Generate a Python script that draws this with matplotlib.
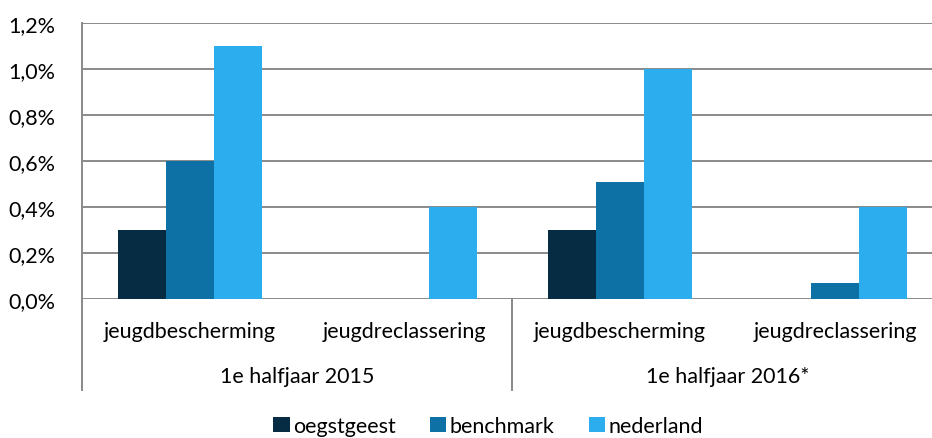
import matplotlib
matplotlib.use("Agg")
import matplotlib.pyplot as plt
import matplotlib.transforms as mtransforms
from matplotlib.patches import Patch
import numpy as np

plt.rcParams['font.family'] = ['Lato', 'DejaVu Sans']

# data
periods = ['1e halfjaar 2015', '1e halfjaar 2016*']
categories = ['jeugdbescherming', 'jeugdreclassering', 'jeugdbescherming', 'jeugdreclassering']
series = ['oegstgeest', 'benchmark', 'nederland']
oegstgeest = [0.30, 0.0, 0.30, 0.0]
benchmark = [0.60, 0.0, 0.51, 0.07]
nederland = [1.10, 0.40, 1.00, 0.40]
yticks = [0.0, 0.2, 0.4, 0.6, 0.8, 1.0, 1.2]

colors = ['#052c42', '#0e71a6', '#2caeee']
grey = '#8a8a8a'
fs = 15.5

fig = plt.figure(figsize=(9.32, 4.39), dpi=100)
ax = fig.add_axes([82 / 932, 139 / 439, 850 / 932, 276 / 439])

x = np.arange(len(categories))
w = 0.223
for i, (vals, c) in enumerate(zip([oegstgeest, benchmark, nederland], colors)):
    ax.bar(x + (i - 1) * w, vals, width=w, color=c, zorder=3)

ax.set_xlim(-0.5, 3.45)
ax.set_ylim(0, 1.2)
ax.set_yticks(yticks)
ax.set_yticklabels([f"{v:.1f}%".replace('.', ',') for v in yticks], fontsize=fs)
ax.yaxis.grid(True, color=grey, lw=1.4, zorder=0)
ax.tick_params(axis='y', length=0, pad=19)
ax.tick_params(axis='x', length=0)
ax.set_xticks([])
for s in ['top', 'right', 'bottom']:
    ax.spines[s].set_visible(False)
ax.spines['left'].set_color(grey)
ax.spines['left'].set_linewidth(1.4)

# two-level category axis
trans = mtransforms.blended_transform_factory(ax.transData, ax.transAxes)
for xi, lab in zip(x, categories):
    ax.text(xi, -0.115, lab, transform=trans, ha='center', va='center', fontsize=fs)
for k, p in enumerate(periods):
    ax.text(2 * k + 0.5, -0.28, p, transform=trans, ha='center', va='center', fontsize=fs)
for xs in [-0.5, 1.5]:
    ax.plot([xs, xs], [0, -0.33], transform=trans, color=grey, lw=1.4, clip_on=False)

handles = [Patch(facecolor=c, label=s) for c, s in zip(colors, series)]
fig.legend(handles=handles, loc='center', bbox_to_anchor=(488 / 932, 12 / 439), ncol=3,
           frameon=False, fontsize=fs, handlelength=0.75, handleheight=0.75,
           handletextpad=0.15, columnspacing=1.6)

fig.savefig('out.png', dpi=100)
